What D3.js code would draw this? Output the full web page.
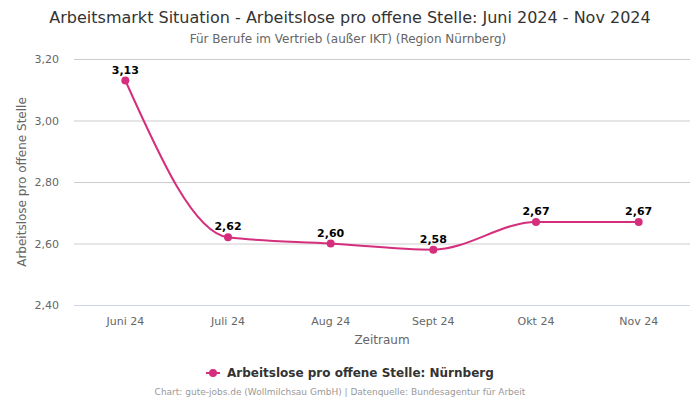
<!DOCTYPE html>
<html><head><meta charset="utf-8">
<script src="https://cdn.jsdelivr.net/npm/d3@7/dist/d3.min.js"></script>
<style>body{margin:0;background:#fff;}svg{display:block;font-family:"DejaVu Sans",sans-serif;}</style>
</head><body><svg id="c" width="700" height="400"></svg>
<script>
const categories = ["Juni 24","Juli 24","Aug 24","Sept 24","Okt 24","Nov 24"];
const values = [3.13,2.62,2.60,2.58,2.67,2.67];
const yTicks = [2.40,2.60,2.80,3.00,3.20];
const seriesName = "Arbeitslose pro offene Stelle: Nürnberg";
const color = "#d42e7c";
const fmt = v => v.toFixed(2).replace(".", ",");

const svg = d3.select("#c");
const L = 74, R = 690, T = 59, B = 305;
const x = d3.scaleBand().domain(categories).range([L, R]);
const y = d3.scaleLinear().domain([2.4, 3.2]).range([B, T]);

svg.append("text").attr("x",350).attr("y",23).attr("text-anchor","middle").attr("font-size",16).attr("fill","#333").text("Arbeitsmarkt Situation - Arbeitslose pro offene Stelle: Juni 2024 - Nov 2024");
svg.append("text").attr("x",348).attr("y",43).attr("text-anchor","middle").attr("font-size",12).attr("fill","#666").text("Für Berufe im Vertrieb (außer IKT) (Region Nürnberg)");

// grid
const gy = svg.append("g").attr("transform",`translate(${L},0)`)
  .call(d3.axisLeft(y).tickValues(yTicks).tickSize(-(R-L)).tickFormat(fmt));
gy.select(".domain").remove();
gy.selectAll(".tick line").attr("stroke","#ccc");
gy.selectAll(".tick").filter(d=>d===2.4).select("line").attr("stroke","#ccd6eb");
gy.selectAll(".tick text").attr("x",-15).attr("fill","#666").attr("font-size",11).attr("font-family","DejaVu Sans, sans-serif");

const gx = svg.append("g").attr("transform",`translate(0,${B})`)
  .call(d3.axisBottom(x).tickSize(0).tickPadding(12));
gx.select(".domain").remove();
gx.selectAll(".tick text").attr("fill","#666").attr("font-size",11).attr("font-family","DejaVu Sans, sans-serif");

svg.append("text").attr("x",(L+R)/2).attr("y",344).attr("text-anchor","middle").attr("font-size",12).attr("fill","#666").text("Zeitraum");
svg.append("text").attr("transform",`translate(26,${(T+B)/2}) rotate(-90)`).attr("text-anchor","middle").attr("font-size",12).attr("fill","#666").text("Arbeitslose pro offene Stelle");

const line = d3.line().x((d,i)=>x(categories[i])+x.bandwidth()/2).y(d=>y(d)).curve(d3.curveMonotoneX);
svg.append("path").datum(values).attr("d",line).attr("fill","none").attr("stroke",color).attr("stroke-width",2);
svg.selectAll(".pt").data(values).join("circle").attr("cx",(d,i)=>x(categories[i])+x.bandwidth()/2).attr("cy",d=>y(d)).attr("r",4).attr("fill",color);
svg.selectAll(".lbl").data(values).join("text").attr("x",(d,i)=>x(categories[i])+x.bandwidth()/2).attr("y",d=>y(d)-7).attr("text-anchor","middle").attr("font-size",11).attr("font-weight","bold").attr("fill","#000").text(fmt);

// legend
const lg = svg.append("g");
lg.append("line").attr("x1",206).attr("x2",220).attr("y1",373).attr("y2",373).attr("stroke",color).attr("stroke-width",2);
lg.append("circle").attr("cx",213).attr("cy",373).attr("r",4).attr("fill",color);
lg.append("text").attr("x",227).attr("y",377).attr("font-size",12).attr("font-weight","bold").attr("fill","#333").text(seriesName);

svg.append("text").attr("x",340).attr("y",395).attr("text-anchor","middle").attr("font-size",9).attr("fill","#999").text("Chart: gute-jobs.de (Wollmilchsau GmbH) | Datenquelle: Bundesagentur für Arbeit");
</script></body></html>
